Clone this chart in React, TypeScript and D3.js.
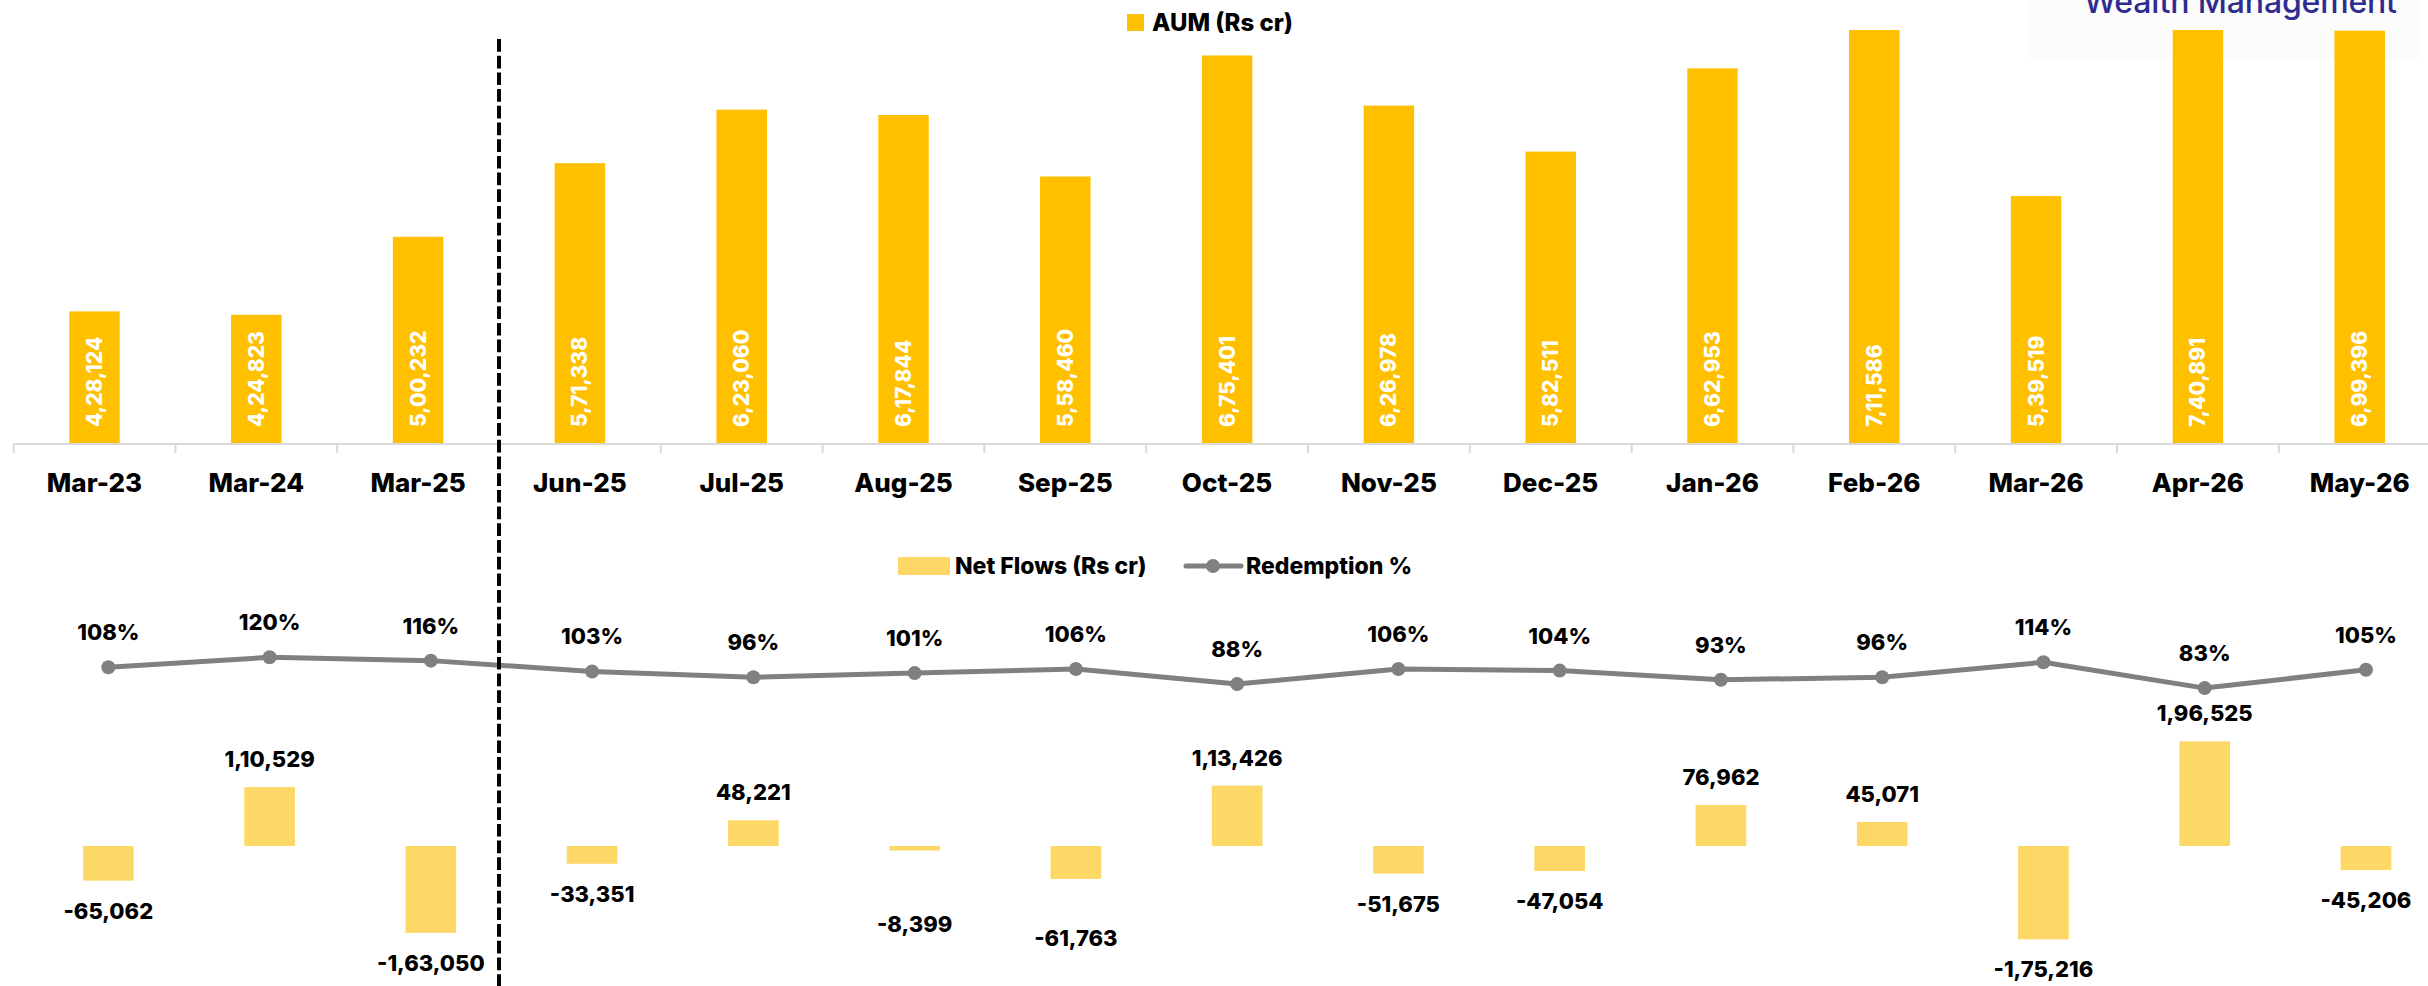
import React from 'react'
import * as d3 from 'd3'

const categories = ['Mar-23', 'Mar-24', 'Mar-25', 'Jun-25', 'Jul-25', 'Aug-25', 'Sep-25', 'Oct-25', 'Nov-25', 'Dec-25', 'Jan-26', 'Feb-26', 'Mar-26', 'Apr-26', 'May-26']
const aum = [428124, 424823, 500232, 571338, 623060, 617844, 558460, 675401, 626978, 582511, 662953, 711586, 539519, 740891, 699396]
const netFlows = [-65062, 110529, -163050, -33351, 48221, -8399, -61763, 113426, -51675, -47054, 76962, 45071, -175216, 196525, -45206]
const redemption = [108, 120, 116, 103, 96, 101, 106, 88, 106, 104, 93, 96, 114, 83, 105]

// manual label nudges (px) the way they were dragged in the source
const flowLabelNudge: Record<string, number> = { 'Aug-25': 44, 'Sep-25': 29 }

const W = 2428
const H = 986
const FONT = 'Inter, "Noto Sans", sans-serif'
const AUM_COLOR = '#FFC000'
const FLOW_COLOR = '#FDD866'
const LINE_COLOR = '#808080'

const fmtIN = (v: number) => {
  const s = Math.abs(Math.round(v)).toString()
  let out = s
  if (s.length > 3) {
    const last3 = s.slice(-3)
    let rest = s.slice(0, -3)
    const parts: string[] = []
    while (rest.length > 2) {
      parts.unshift(rest.slice(-2))
      rest = rest.slice(0, -2)
    }
    if (rest) parts.unshift(rest)
    out = parts.join(',') + ',' + last3
  }
  return (v < 0 ? '-' : '') + out
}

export default function App() {
  // top panel: AUM columns
  const xTop = d3.scaleBand<string>()
    .domain(categories)
    .range([13.6, 2440.6])
    .paddingInner(0.688)
    .paddingOuter(0.344)
  const stepTop = xTop.step()
  const yAum = d3.scaleLinear().domain([300000, 700000]).range([444, 30]).clamp(true)

  // bottom panel: net flows + redemption line
  const xBot = d3.scaleBand<string>()
    .domain(categories)
    .range([27.7, 2446.6])
    .paddingInner(0.686)
    .paddingOuter(0.343)
  const yFlow = d3.scaleLinear().domain([-200000, 200000]).range([952.5, 739.5])
  const yRed = d3.scaleLinear().domain([80, 120]).range([690.6, 657.3])

  const cxBot = (c: string) => (xBot(c) as number) + xBot.bandwidth() / 2
  const line = d3.line<number>()
    .x((_, i) => cxBot(categories[i]))
    .y(d => yRed(d))

  const boundaries = d3.range(categories.length + 1).map(i => 13.6 + i * stepTop)

  return (
    <svg width={W} height={H} style={{ position: 'absolute', left: 0, top: 0, background: '#fff' }} fontFamily={FONT}>
      <rect x={0} y={0} width={W} height={H} fill="#fff" />

      {/* logo strip, cut off at the top */}
      <rect x={2027} y={0} width={392} height={61} fill="#fcfcfc" />
      <text x={2084} y={13} fontSize={32} fontWeight={500} fill="#2e2d8f" textLength={313}>Wealth Management</text>

      {/* top legend */}
      <rect x={1127} y={14} width={17} height={17} fill={AUM_COLOR} />
      <text x={1152} y={22.5} fontSize={24} fontWeight={800} dominantBaseline="central" fill="#000">AUM (Rs cr)</text>

      {/* AUM bars */}
      {categories.map((c, i) => (
        <rect key={c} x={xTop(c)} y={yAum(aum[i])} width={xTop.bandwidth()} height={444 - yAum(aum[i])} fill={AUM_COLOR} />
      ))}
      {categories.map((c, i) => (
        <text key={c} transform={`translate(${(xTop(c) as number) + xTop.bandwidth() / 2},427) rotate(-90)`}
          fontSize={21} fontWeight={800} fill="#fff" dominantBaseline="central">{fmtIN(aum[i])}</text>
      ))}

      {/* category axis */}
      <line x1={13.6} x2={W} y1={444} y2={444} stroke="#d9d9d9" strokeWidth={2} />
      {boundaries.map((x, i) => (
        <line key={i} x1={x} x2={x} y1={444} y2={453} stroke="#d9d9d9" strokeWidth={2} />
      ))}
      {categories.map(c => (
        <text key={c} x={(xTop(c) as number) + xTop.bandwidth() / 2} y={482} fontSize={26} fontWeight={800}
          textAnchor="middle" dominantBaseline="central" fill="#000">{c}</text>
      ))}

      {/* bottom legend */}
      <rect x={898} y={557} width={52} height={18} fill={FLOW_COLOR} />
      <text x={955} y={566} fontSize={23} fontWeight={800} dominantBaseline="central" fill="#000">Net Flows (Rs cr)</text>
      <line x1={1186} x2={1241} y1={566} y2={566} stroke={LINE_COLOR} strokeWidth={5} strokeLinecap="round" />
      <circle cx={1213} cy={566} r={7} fill={LINE_COLOR} />
      <text x={1246} y={566} fontSize={23} fontWeight={800} dominantBaseline="central" fill="#000">Redemption %</text>

      {/* net flow bars */}
      {categories.map((c, i) => (
        <rect key={c} x={xBot(c)} width={xBot.bandwidth()}
          y={Math.min(yFlow(0), yFlow(netFlows[i]))} height={Math.abs(yFlow(netFlows[i]) - yFlow(0))} fill={FLOW_COLOR} />
      ))}
      {categories.map((c, i) => {
        const v = netFlows[i]
        const y = v >= 0 ? yFlow(v) - 28 : yFlow(v) + 30 + (flowLabelNudge[c] || 0)
        return (
          <text key={c} x={cxBot(c)} y={y} fontSize={22} fontWeight={800} textAnchor="middle"
            dominantBaseline="central" fill="#000">{fmtIN(v)}</text>
        )
      })}

      {/* redemption line */}
      <path d={line(redemption) as string} fill="none" stroke={LINE_COLOR} strokeWidth={5} strokeLinejoin="round" />
      {categories.map((c, i) => (
        <circle key={c} cx={cxBot(c)} cy={yRed(redemption[i])} r={7} fill={LINE_COLOR} />
      ))}
      {categories.map((c, i) => (
        <text key={c} x={cxBot(c)} y={yRed(redemption[i]) - 35} fontSize={22} fontWeight={800} textAnchor="middle"
          dominantBaseline="central" fill="#000">{redemption[i]}%</text>
      ))}

      {/* divider between yearly and monthly data */}
      <line x1={boundaries[3]} x2={boundaries[3]} y1={39} y2={H} stroke="#000" strokeWidth={4} strokeDasharray="12.7 4" />
    </svg>
  )
}
